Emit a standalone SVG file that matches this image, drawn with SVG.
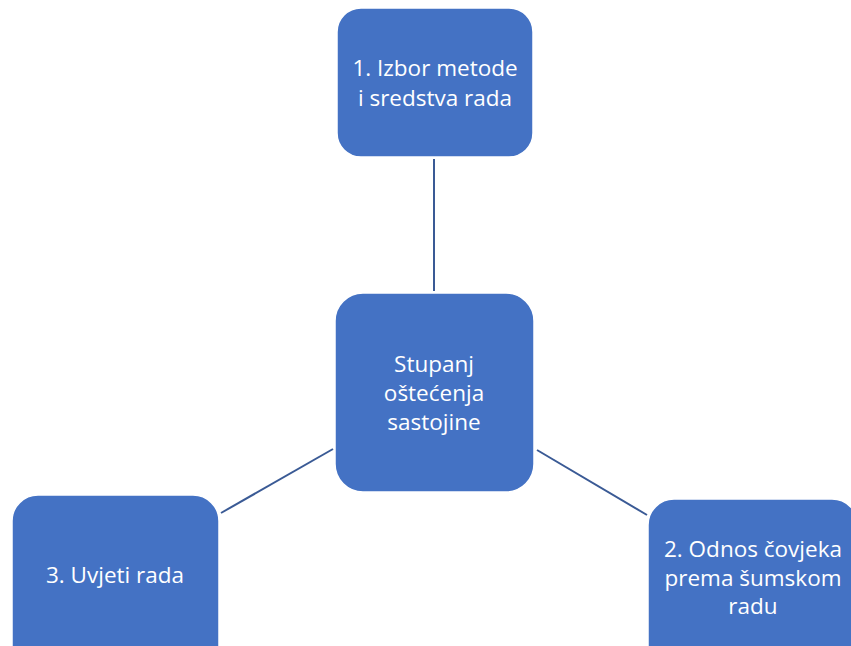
<svg xmlns="http://www.w3.org/2000/svg" width="851" height="646" viewBox="0 0 851 646">
<style>
.box{fill:#4472C4;stroke:#ffffff;stroke-width:1.5}
.t{font-family:"Open Sans","Liberation Sans",sans-serif;font-size:22.5px;fill:#ffffff;text-anchor:middle}
.c{stroke:#3A5A95;stroke-width:2;fill:none}
</style>
<rect width="851" height="646" fill="#ffffff"/>
<g id="connectors">
<line class="c" x1="434" y1="159" x2="434" y2="291"/>
<line class="c" x1="221" y1="513" x2="333" y2="449"/>
<line class="c" x1="537" y1="450" x2="647" y2="515"/>
</g>
<g id="n1">
<rect class="box" x="337" y="8" width="196" height="149" rx="24"/>
<text class="t" x="435" y="76">1. Izbor metode</text>
<text class="t" x="435" y="106">i sredstva rada</text>
</g>
<g id="n0">
<rect class="box" x="335" y="293" width="199" height="199" rx="28"/>
<text class="t" x="434" y="372">Stupanj</text>
<text class="t" x="434" y="401">oštećenja</text>
<text class="t" x="434" y="430">sastojine</text>
</g>
<g id="n3">
<rect class="box" x="12" y="495" width="207" height="180" rx="26"/>
<text class="t" x="115" y="583">3. Uvjeti rada</text>
</g>
<g id="n2">
<rect class="box" x="648" y="499" width="210" height="180" rx="26"/>
<text class="t" x="753" y="557">2. Odnos čovjeka</text>
<text class="t" x="753" y="586">prema šumskom</text>
<text class="t" x="753" y="614">radu</text>
</g>
</svg>
